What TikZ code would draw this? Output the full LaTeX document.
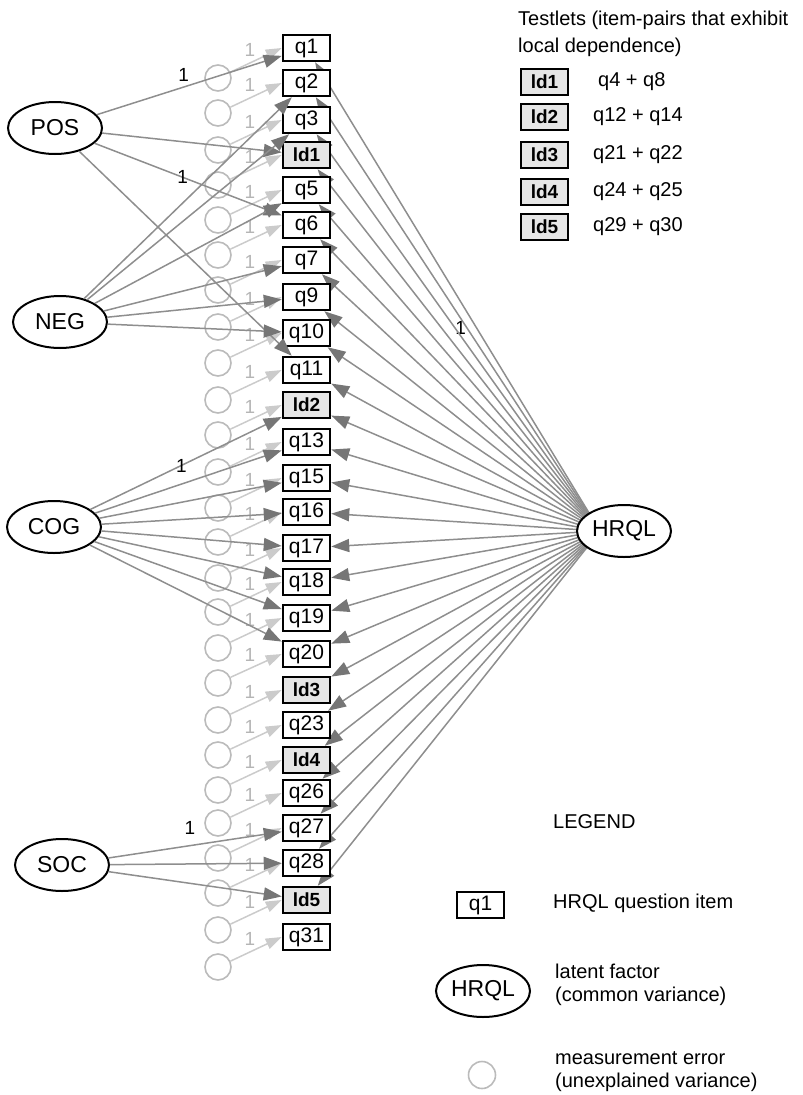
\documentclass[tikz,border=0pt]{standalone}
\usepackage{fontspec}
\setmainfont{Liberation Sans}
\usetikzlibrary{shapes.geometric,arrows.meta,backgrounds}
\definecolor{edgegray}{HTML}{8E8E8E}
\definecolor{headgray}{HTML}{767676}
\definecolor{errgray}{HTML}{CBCBCB}
\definecolor{circgray}{HTML}{BBBBBB}
\definecolor{onegray}{HTML}{B5B5B5}
\definecolor{ldfill}{HTML}{E6E6E6}

\begin{document}
\begin{tikzpicture}[x=1pt,y=-1pt,
    item/.style={rectangle,draw,line width=2.5pt,fill=white,minimum width=47pt,minimum height=26pt,inner sep=0pt,font=\fontsize{21}{21}\selectfont},
    testlet/.style={item,fill=ldfill,font=\fontsize{19}{19}\selectfont\bfseries},
    factor/.style={ellipse,draw,fill=white,line width=2pt,minimum width=94pt,minimum height=52pt,inner sep=0pt,font=\fontsize{23}{23}\selectfont},
    err/.style={circle,draw=circgray,line width=1.6pt,minimum size=26pt,inner sep=0pt},
    txt/.style={anchor=west,align=left,inner sep=0pt,font=\fontsize{20}{23}\selectfont}]

      \useasboundingbox (0,0) rectangle (803,1095);

      \begin{scope}[every node/.style={err}]
        \node (eq1) at (218,78) {};
        \node (eq2) at (218,113) {};
        \node (eq3) at (218,150) {};
        \node (eld1) at (218,185) {};
        \node (eq5) at (218,220) {};
        \node (eq6) at (218,255) {};
        \node (eq7) at (218,290) {};
        \node (eq9) at (218,327) {};
        \node (eq10) at (218,363) {};
        \node (eq11) at (218,400) {};
        \node (eld2) at (218,435) {};
        \node (eq13) at (218,472) {};
        \node (eq15) at (218,508) {};
        \node (eq16) at (218,542) {};
        \node (eq17) at (218,578) {};
        \node (eq18) at (218,612) {};
        \node (eq19) at (218,648) {};
        \node (eq20) at (218,683) {};
        \node (eld3) at (218,720) {};
        \node (eq23) at (218,755) {};
        \node (eld4) at (218,790) {};
        \node (eq26) at (218,823) {};
        \node (eq27) at (218,858) {};
        \node (eq28) at (218,893) {};
        \node (eld5) at (218,930) {};
        \node (eq31) at (218,967) {};
      \end{scope}

      \begin{scope}[every node/.style={item}]
        \node (q1) at (306.5,48) {q1};
        \node (q2) at (306.5,83) {q2};
        \node (q3) at (306.5,120) {q3};
        \node[testlet] (ld1) at (306.5,155) {ld1};
        \node (q5) at (306.5,190) {q5};
        \node (q6) at (306.5,225) {q6};
        \node (q7) at (306.5,260) {q7};
        \node (q9) at (306.5,297) {q9};
        \node (q10) at (306.5,333) {q10};
        \node (q11) at (306.5,370) {q11};
        \node[testlet] (ld2) at (306.5,405) {ld2};
        \node (q13) at (306.5,442) {q13};
        \node (q15) at (306.5,478) {q15};
        \node (q16) at (306.5,512) {q16};
        \node (q17) at (306.5,548) {q17};
        \node (q18) at (306.5,582) {q18};
        \node (q19) at (306.5,618) {q19};
        \node (q20) at (306.5,654) {q20};
        \node[testlet] (ld3) at (306.5,690) {ld3};
        \node (q23) at (306.5,725) {q23};
        \node[testlet] (ld4) at (306.5,760) {ld4};
        \node (q26) at (306.5,793) {q26};
        \node (q27) at (306.5,828) {q27};
        \node (q28) at (306.5,863) {q28};
        \node[testlet] (ld5) at (306.5,900) {ld5};
        \node (q31) at (306.5,937) {q31};
      \end{scope}

      \begin{scope}[every node/.style={factor}]
        \node (POS) at (55,128) {POS};
        \node (NEG) at (60,322) {NEG};
        \node (COG) at (54,527) {COG};
        \node (SOC) at (62,865) {SOC};
        \node (HRQL) at (624,531) {HRQL};
      \end{scope}

      % error terms
      \begin{scope}[every node/.style={inner sep=1pt,text=onegray,pos=.38,above=5pt,font=\fontsize{19}{19}\selectfont},
                    every edge/.style={draw=errgray,line width=1.5pt,-{Triangle[length=16pt,width=11pt]}}]
        \path (eq1) edge node {1} (q1.west);
        \path (eq2) edge node {1} (q2.west);
        \path (eq3) edge node {1} (q3.west);
        \path (eld1) edge node {1} (ld1.west);
        \path (eq5) edge node {1} (q5.west);
        \path (eq6) edge node {1} (q6.west);
        \path (eq7) edge node {1} (q7.west);
        \path (eq9) edge node {1} (q9.west);
        \path (eq10) edge node {1} (q10.west);
        \path (eq11) edge node {1} (q11.west);
        \path (eld2) edge node {1} (ld2.west);
        \path (eq13) edge node {1} (q13.west);
        \path (eq15) edge node {1} (q15.west);
        \path (eq16) edge node {1} (q16.west);
        \path (eq17) edge node {1} (q17.west);
        \path (eq18) edge node {1} (q18.west);
        \path (eq19) edge node {1} (q19.west);
        \path (eq20) edge node {1} (q20.west);
        \path (eld3) edge node {1} (ld3.west);
        \path (eq23) edge node {1} (q23.west);
        \path (eld4) edge node {1} (ld4.west);
        \path (eq26) edge node {1} (q26.west);
        \path (eq27) edge node {1} (q27.west);
        \path (eq28) edge node {1} (q28.west);
        \path (eld5) edge node {1} (ld5.west);
        \path (eq31) edge node {1} (q31.west);
      \end{scope}

      % loadings
      \begin{scope}[every node/.style={inner sep=1pt,font=\fontsize{19}{19}\selectfont},
                    every edge/.style={draw=edgegray,line width=1.5pt,-{Triangle[length=18pt,width=13pt,color=headgray]}}]
        \path (POS) edge node[pos=.47,above=4pt] {1} (q1);
        \path (POS) edge (ld1);
        \path (POS) edge node[pos=.47] {1} (q6);
        \path (POS) edge (q11);

        \path (NEG) edge (q2);
        \path (NEG) edge (q3);
        \path (NEG) edge (q5);
        \path (NEG) edge (q7);
        \path (NEG) edge (q9);
        \path (NEG) edge (q10);

        \path (COG) edge node[pos=.475] {1} (ld2);
        \path (COG) edge (q13);
        \path (COG) edge (q15);
        \path (COG) edge (q16);
        \path (COG) edge (q17);
        \path (COG) edge (q18);
        \path (COG) edge (q19);
        \path (COG) edge (q20);

        \path (SOC) edge node[pos=.47,above=9pt] {1} (q27);
        \path (SOC) edge (q28);
        \path (SOC) edge (ld5);

        % HRQL edges run behind the ellipse
        \begin{scope}[on background layer]
          \path ([xshift=-24pt]HRQL.center) edge (q1);
          \path ([xshift=-24pt]HRQL.center) edge node[pos=.49,below=1pt] {1} (q2);
          \path ([xshift=-24pt]HRQL.center) edge (q3);
          \path ([xshift=-24pt]HRQL.center) edge (ld1);
          \path ([xshift=-24pt]HRQL.center) edge (q5);
          \path ([xshift=-24pt]HRQL.center) edge (q6);
          \path ([xshift=-24pt]HRQL.center) edge (q7);
          \path ([xshift=-24pt]HRQL.center) edge (q9);
          \path ([xshift=-24pt]HRQL.center) edge (q10);
          \path ([xshift=-24pt]HRQL.center) edge (q11);
          \path ([xshift=-24pt]HRQL.center) edge (ld2);
          \path ([xshift=-24pt]HRQL.center) edge (q13);
          \path ([xshift=-24pt]HRQL.center) edge (q15);
          \path ([xshift=-24pt]HRQL.center) edge (q16);
          \path ([xshift=-24pt]HRQL.center) edge (q17);
          \path ([xshift=-24pt]HRQL.center) edge (q18);
          \path ([xshift=-24pt]HRQL.center) edge (q19);
          \path ([xshift=-24pt]HRQL.center) edge (q20);
          \path ([xshift=-24pt]HRQL.center) edge (ld3);
          \path ([xshift=-24pt]HRQL.center) edge (q23);
          \path ([xshift=-24pt]HRQL.center) edge (ld4);
          \path ([xshift=-24pt]HRQL.center) edge (q26);
          \path ([xshift=-24pt]HRQL.center) edge (q27);
          \path ([xshift=-24pt]HRQL.center) edge (q28);
          \path ([xshift=-24pt]HRQL.center) edge (ld5);
        \end{scope}
      \end{scope}

      % testlets
      \node[txt,font=\fontsize{20}{27}\selectfont] (testlets) at (518,33.5) {Testlets (item-pairs that exhibit\\local dependence)};
      \node[testlet] (keyld1) at (544.5,82) {ld1};
      \node[testlet] (keyld2) at (544.5,117) {ld2};
      \node[testlet] (keyld3) at (544.5,155) {ld3};
      \node[testlet] (keyld4) at (544.5,192) {ld4};
      \node[testlet] (keyld5) at (544.5,227) {ld5};
      \node[txt] (pair1) at (598,82) {q4 + q8};
      \node[txt] (pair2) at (593,117) {q12 + q14};
      \node[txt] (pair3) at (593,155) {q21 + q22};
      \node[txt] (pair4) at (593,192) {q24 + q25};
      \node[txt] (pair5) at (593,227) {q29 + q30};

      % legend
      \node[txt] (legend) at (553,822) {LEGEND};
      \node[item] (keyitem) at (480.5,905) {q1};
      \node[txt] (keyitemtext) at (553,903) {HRQL question item};
      \node[factor] (keyfactor) at (483,991) {HRQL};
      \node[txt] (keyfactortext) at (555,985) {latent factor\\(common variance)};
      \node[err,minimum size=27pt] (keyerr) at (482,1075) {};
      \node[txt] (keyerrtext) at (555,1072) {measurement error\\(unexplained variance)};

    \end{tikzpicture}
\end{document}
